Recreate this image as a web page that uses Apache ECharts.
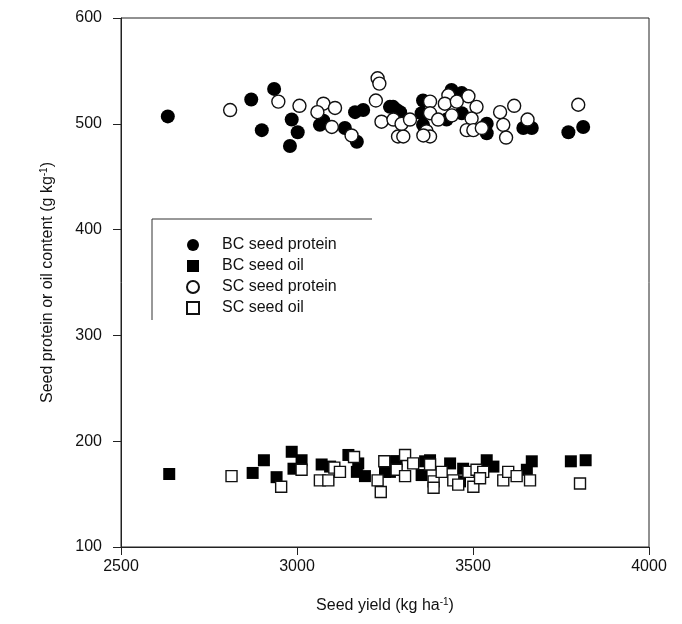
<!DOCTYPE html>
<html>
<head>
<meta charset="utf-8">
<script src="https://cdn.jsdelivr.net/npm/echarts@6/dist/echarts.min.js"></script>
<style>
html,body{margin:0;padding:0;background:#fff;}
#c{width:682px;height:624px;}
</style>
</head>
<body>
<div id="c"></div>
<script>
// Seed yield (kg/ha) vs seed protein / oil content (g/kg)
const bcProtein = [
  [2633,507],[2870,523],[2935,533],[2900,494],[2985,504],[3002,492],[2980,479],
  [3065,499],[3075,503],[3136,496],[3170,483],[3165,511],[3188,513],[3264,516],
  [3283,513],[3273,516],[3293,511],[3358,522],[3354,510],[3358,499],[3439,532],
  [3468,529],[3468,510],[3425,504],[3539,500],[3539,491],[3643,496],[3667,496],
  [3771,492],[3813,497]
];
const scProtein = [
  [2810,513],[2947,521],[3007,517],[3075,519],[3058,511],[3108,515],[3099,497],
  [3155,489],[3229,543],[3234,538],[3224,522],[3240,502],[3274,504],[3287,488],
  [3302,488],[3297,500],[3321,504],[3378,521],[3378,510],[3368,493],[3378,488],
  [3359,489],[3401,504],[3430,527],[3420,519],[3454,521],[3487,526],[3510,516],
  [3440,508],[3496,505],[3482,494],[3501,494],[3525,496],[3577,511],[3586,499],
  [3594,487],[3617,517],[3655,504],[3799,518]
];
const bcOil = [
  [2637,169],[2874,170],[2906,182],[2942,166],[2985,190],[3013,182],[2990,174],
  [3070,178],[3094,176],[3146,187],[3174,179],[3193,167],[3170,171],[3283,181],
  [3264,171],[3250,171],[3278,181],[3364,181],[3378,182],[3354,168],[3435,179],
  [3472,174],[3463,162],[3539,182],[3558,176],[3667,181],[3653,173],[3778,181],
  [3820,182]
];
const scOil = [
  [2814,167],[2955,157],[3013,173],[3065,163],[3089,163],[3106,175],[3122,171],
  [3162,185],[3229,163],[3238,152],[3248,181],[3283,173],[3307,187],[3330,179],
  [3307,167],[3378,178],[3388,162],[3388,156],[3411,171],[3444,163],[3458,159],
  [3501,157],[3487,171],[3510,173],[3529,171],[3520,165],[3586,163],[3600,171],
  [3624,167],[3662,163],[3804,160]
];
const xTicks = [2500, 3000, 3500, 4000];
const yTicks = [100, 200, 300, 400, 500, 600];
const seriesNames = ['BC seed protein','BC seed oil','SC seed protein','SC seed oil'];

const FONT = 'Liberation Sans, Arial, sans-serif';
const chart = echarts.init(document.getElementById('c'));
const openStyle = {color:'#fff', borderColor:'#111', borderWidth:1.4, opacity:1};
const fillStyle = {color:'#000', borderColor:'#000', borderWidth:0, opacity:1};
const supRich = {
  a:{fontSize:16, color:'#111', fontFamily:FONT},
  s:{fontSize:10, color:'#111', fontFamily:FONT, verticalAlign:'top', padding:[0,0,8,0]}
};
chart.setOption({
  animation:false,
  backgroundColor:'#fff',
  textStyle:{fontFamily:FONT},
  grid:{left:121, right:33, top:18, bottom:77, show:true, borderColor:'#222', borderWidth:1},
  legend:{
    orient:'vertical', left:181, top:232, itemGap:5, itemWidth:12, itemHeight:12,
    textStyle:{fontSize:16, color:'#111', fontFamily:FONT, padding:[0,0,0,18]},
    data:seriesNames
  },
  graphic:[{
    type:'polyline', silent:true,
    shape:{points:[[152,320],[152,219],[372,219]]},
    style:{stroke:'#333', lineWidth:1, fill:null}
  }],
  xAxis:{
    type:'value', min:xTicks[0], max:xTicks[xTicks.length-1], interval:500,
    name:'{a|Seed yield (kg ha}{s|-1}{a|)}', nameLocation:'middle', nameGap:50,
    nameTextStyle:{rich:supRich},
    axisLine:{show:true, lineStyle:{color:'#222', width:1}},
    axisTick:{show:true, inside:false, length:8, lineStyle:{color:'#222'}},
    axisLabel:{fontSize:16, color:'#111', margin:12, fontFamily:FONT, formatter:(v)=>String(v)},
    splitLine:{show:false}
  },
  yAxis:{
    type:'value', min:yTicks[0], max:yTicks[yTicks.length-1], interval:100,
    name:'{a|Seed protein or oil content (g kg}{s|-1}{a|)}', nameLocation:'middle', nameGap:64, nameRotate:90,
    nameTextStyle:{rich:supRich},
    axisLine:{show:true, lineStyle:{color:'#222', width:1}},
    axisTick:{show:true, inside:false, length:8, lineStyle:{color:'#222'}},
    axisLabel:{fontSize:16, color:'#111', margin:19, fontFamily:FONT, formatter:(v)=>String(v)},
    splitLine:{show:false}
  },
  series:[
    {name:seriesNames[0], type:'scatter', symbol:'circle', symbolSize:14, data:bcProtein, itemStyle:fillStyle},
    {name:seriesNames[1], type:'scatter', symbol:'rect', symbolSize:12, data:bcOil, itemStyle:fillStyle},
    {name:seriesNames[2], type:'scatter', symbol:'circle', symbolSize:13, data:scProtein, itemStyle:openStyle},
    {name:seriesNames[3], type:'scatter', symbol:'rect', symbolSize:11, data:scOil, itemStyle:openStyle}
  ]
});
</script>
</body>
</html>
